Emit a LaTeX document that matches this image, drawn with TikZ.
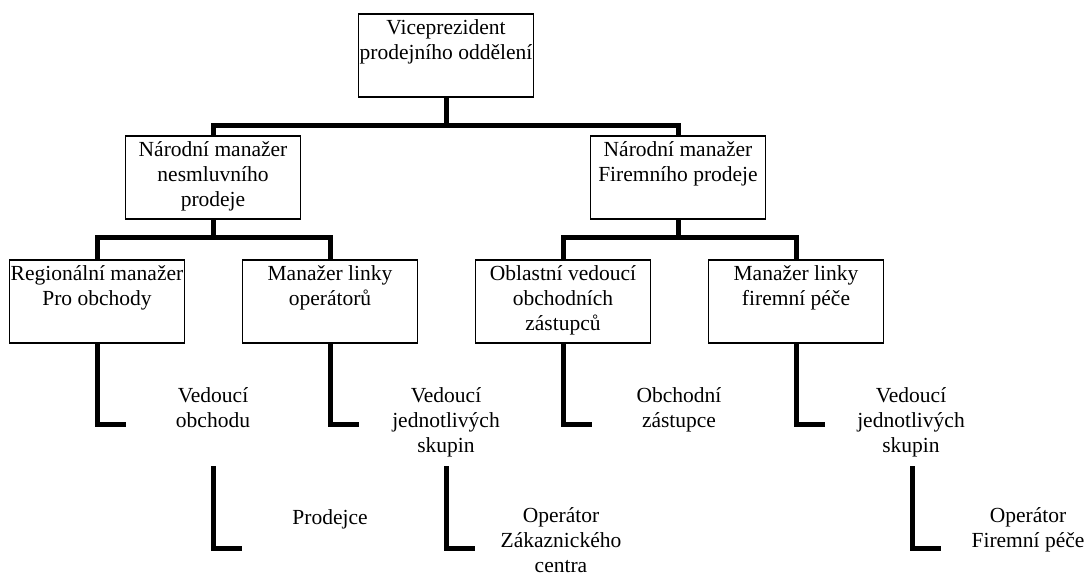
\documentclass[tikz,border=0pt]{standalone}
\usepackage{fontspec}
\setmainfont{Liberation Serif}
\newcommand{\boxtext}[1]{\parbox[t][83pt][t]{175pt}{\centering\rule{0pt}{21pt}#1}}

\begin{document}
\begin{tikzpicture}[x = 1pt, y = -1pt]
	\tikzstyle {post} = [draw, line width = 1.6pt, anchor = north, inner sep = 0pt, font = \fontsize{21.5}{25}\selectfont];
	\tikzstyle {title} = [anchor = north, inner sep = 0pt, align = center, font = \fontsize{21.5}{25}\selectfont, execute at begin node = \rule{0pt}{17pt}];
	\tikzstyle {link} = [line width = 5pt, line join = miter];
	\useasboundingbox (0, 0) rectangle (1085, 575);
	\node[post] (vp) at (446, 13) {\boxtext{Viceprezident\\prodejního oddělení}};
	\node[post] (nm1) at (213, 135) {\boxtext{Národní manažer\\nesmluvního\\prodeje}};
	\node[post] (nm2) at (678, 135) {\boxtext{Národní manažer\\Firemního prodeje}};
	\foreach \nodename/\xpos/\boxlabel in {rm/97/{Regionální manažer\\Pro obchody}, ml/330/{Manažer linky\\operátorů}, ov/563/{Oblastní vedoucí\\obchodních\\zástupců}, mf/796/{Manažer linky\\firemní péče}} {
			\node[post] (\nodename) at (\xpos, 259) {\boxtext{\boxlabel}};
			\draw[link] (\nodename.south) |- ++(29, 81);
		}
	\draw[link] (vp.south) -- ++(0, 28) coordinate (topbar);
	\draw[link] (nm1.north) |- (topbar) -| (nm2.north);
	\draw[link] (nm1.south) -- ++(0, 18) coordinate (leftbar);
	\draw[link] (rm.north) |- (leftbar) -| (ml.north);
	\draw[link] (nm2.south) -- ++(0, 18) coordinate (rightbar);
	\draw[link] (ov.north) |- (rightbar) -| (mf.north);
	\node[title] (vo) at (213, 387) {Vedoucí\\obchodu};
	\node[title] (vs1) at (446, 387) {Vedoucí\\jednotlivých\\skupin};
	\node[title] (oz) at (679, 387) {Obchodní\\zástupce};
	\node[title] (vs2) at (911, 387) {Vedoucí\\jednotlivých\\skupin};
	\foreach \nodename/\xpos in {sl/213, ol/446, fl/912} {
			\coordinate (\nodename) at (\xpos, 466);
			\draw[link] (\nodename) |- ++(29, 82);
		}
	\node[title] (pj) at (330, 507) {Prodejce};
	\node[title] (oc) at (561, 507) {Operátor\\Zákaznického\\centra};
	\node[title] (of) at (1028, 507) {Operátor\\Firemní péče};
\end{tikzpicture}
\end{document}
